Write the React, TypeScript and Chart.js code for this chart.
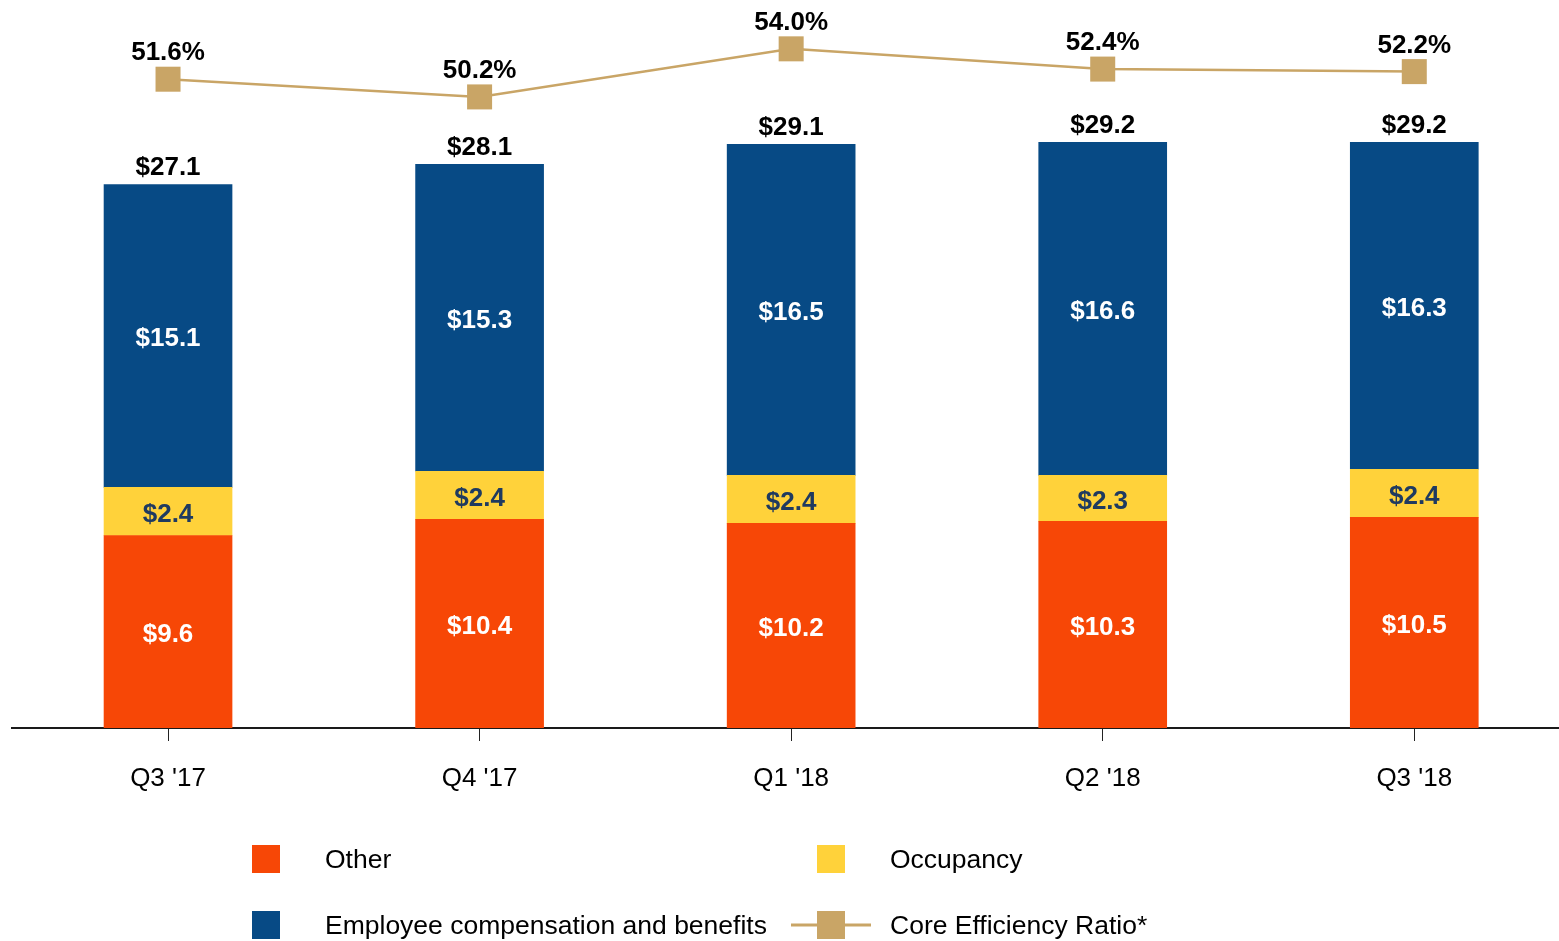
import React, { useEffect, useRef } from "react";
import { Chart, registerables } from "chart.js";

Chart.register(...registerables);

const categories = ["Q3 '17", "Q4 '17", "Q1 '18", "Q2 '18", "Q3 '18"];
const otherValues = [9.6, 10.4, 10.2, 10.3, 10.5];
const occupancyValues = [2.4, 2.4, 2.4, 2.3, 2.4];
const employeeValues = [15.1, 15.3, 16.5, 16.6, 16.3];
const totalValues = [27.1, 28.1, 29.1, 29.2, 29.2];
const ratioValues = [51.6, 50.2, 54.0, 52.4, 52.2];

const FONT = "'Liberation Sans', Arial, Helvetica, sans-serif";
const ORANGE = "#F74706";
const YELLOW = "#FFD23A";
const BLUE = "#074A85";
const GOLD = "#C9A566";

const labelsPlugin = {
  id: "valueLabels",
  afterDatasetsDraw(chart: any) {
    const ctx = chart.ctx;
    ctx.save();
    // line markers (square)
    const lineMeta = chart.getDatasetMeta(3);
    const lineDs = chart.data.datasets[3];
    lineMeta.data.forEach((el: any) => {
      ctx.fillStyle = lineDs.pointBackgroundColor;
      ctx.fillRect(el.x - 12.5, el.y - 12.5, 25, 25);
    });

    ctx.textAlign = "center";
    ctx.textBaseline = "middle";
    ctx.font = `bold 26px ${FONT}`;
    const segColors = ["#ffffff", "#1F3A60", "#ffffff"];
    for (let d = 0; d < 3; d++) {
      const meta = chart.getDatasetMeta(d);
      meta.data.forEach((el: any, i: number) => {
        const v = chart.data.datasets[d].data[i].y;
        const mid = (el.y + el.base) / 2;
        ctx.fillStyle = segColors[d];
        ctx.fillText("$" + v.toFixed(1), el.x, mid + 3);
      });
    }
    // totals
    const topMeta = chart.getDatasetMeta(2);
    topMeta.data.forEach((el: any, i: number) => {
      ctx.fillStyle = "#000000";
      ctx.fillText("$" + totalValues[i].toFixed(1), el.x, el.y - 17);
    });
    // ratio labels
    lineMeta.data.forEach((el: any, i: number) => {
      ctx.fillStyle = "#000000";
      ctx.fillText(ratioValues[i].toFixed(1) + "%", el.x, el.y - 26);
    });
    ctx.restore();
  },
};

const legendPlugin = {
  id: "customLegend",
  afterDraw(chart: any) {
    const ctx = chart.ctx;
    const ds = chart.data.datasets;
    ctx.save();
    ctx.font = `26.5px ${FONT}`;
    ctx.textBaseline = "middle";
    ctx.textAlign = "left";
    const items = [
      { i: 0, sx: 252, cy: 859, tx: 325 },
      { i: 1, sx: 817, cy: 859, tx: 890 },
      { i: 2, sx: 252, cy: 925, tx: 325 },
      { i: 3, sx: 817, cy: 925, tx: 890 },
    ];
    items.forEach((it) => {
      const d = ds[it.i];
      if (d.type === "line") {
        ctx.strokeStyle = d.borderColor;
        ctx.lineWidth = 3;
        ctx.beginPath();
        ctx.moveTo(791, it.cy);
        ctx.lineTo(871, it.cy);
        ctx.stroke();
        ctx.fillStyle = d.pointBackgroundColor;
        ctx.fillRect(it.sx, it.cy - 14, 28, 28);
      } else {
        ctx.fillStyle = d.backgroundColor;
        ctx.fillRect(it.sx, it.cy - 14, 28, 28);
      }
      ctx.fillStyle = "#000000";
      ctx.fillText(d.label, it.tx, it.cy + 2);
    });
    ctx.restore();
  },
};

export default function App() {
  const ref = useRef<HTMLCanvasElement | null>(null);

  useEffect(() => {
    if (!ref.current) return;
    const pts = (arr: number[]) => arr.map((v, i) => ({ x: i, y: v }));
    const chart = new Chart(ref.current, {
      type: "bar",
      data: {
        datasets: [
          {
            type: "bar",
            label: "Other",
            data: pts(otherValues),
            backgroundColor: ORANGE,
            barThickness: 128,
            yAxisID: "y",
            order: 1,
          },
          {
            type: "bar",
            label: "Occupancy",
            data: pts(occupancyValues),
            backgroundColor: YELLOW,
            barThickness: 128,
            yAxisID: "y",
            order: 1,
          },
          {
            type: "bar",
            label: "Employee compensation and benefits",
            data: pts(employeeValues),
            backgroundColor: BLUE,
            barThickness: 128,
            yAxisID: "y",
            order: 1,
          },
          {
            type: "line",
            label: "Core Efficiency Ratio*",
            data: pts(ratioValues),
            borderColor: GOLD,
            borderWidth: 2.5,
            pointRadius: 0,
            pointHoverRadius: 0,
            pointBackgroundColor: GOLD,
            pointBorderWidth: 0,
            yAxisID: "y1",
            order: 0,
          } as any,
        ],
      },
      options: {
        animation: false,
        responsive: false,
        maintainAspectRatio: false,
        layout: { padding: { left: 12, right: 0, top: 0, bottom: 0 } },
        plugins: {
          legend: { display: false },
          tooltip: { enabled: false },
        },
        scales: {
          x: {
            type: "linear",
            stacked: true,
            offset: false,
            min: -0.5008,
            max: 4.4645,
            afterBuildTicks: (scale: any) => {
              scale.ticks = categories.map((_, i) => ({ value: i }));
            },
            afterFit: (scale: any) => {
              scale.height = 213;
            },
            ticks: {
              callback: (v: any) => categories[v as number] ?? "",
              color: "#000000",
              font: { family: FONT, size: 26 },
              padding: 22,
              maxRotation: 0,
              autoSkip: false,
            },
            grid: {
              display: true,
              offset: false,
              drawOnChartArea: false,
              drawTicks: true,
              tickLength: 13,
              color: "#222222",
              lineWidth: 1,
            },
            border: { display: true, color: "#1a1a1a", width: 2 },
          },
          y: {
            type: "linear",
            stacked: true,
            display: false,
            min: 0,
            max: 36.3,
          },
          y1: {
            type: "linear",
            display: false,
            min: 0.32,
            max: 57.86,
          },
        },
      },
      plugins: [labelsPlugin, legendPlugin],
    } as any);
    return () => chart.destroy();
  }, []);

  return (
    <div style={{ position: "fixed", left: 0, top: 0, width: 1559, height: 941, background: "#fff" }}>
      <canvas ref={ref} width={1559} height={941} style={{ display: "block", width: 1559, height: 941 }} />
    </div>
  );
}
